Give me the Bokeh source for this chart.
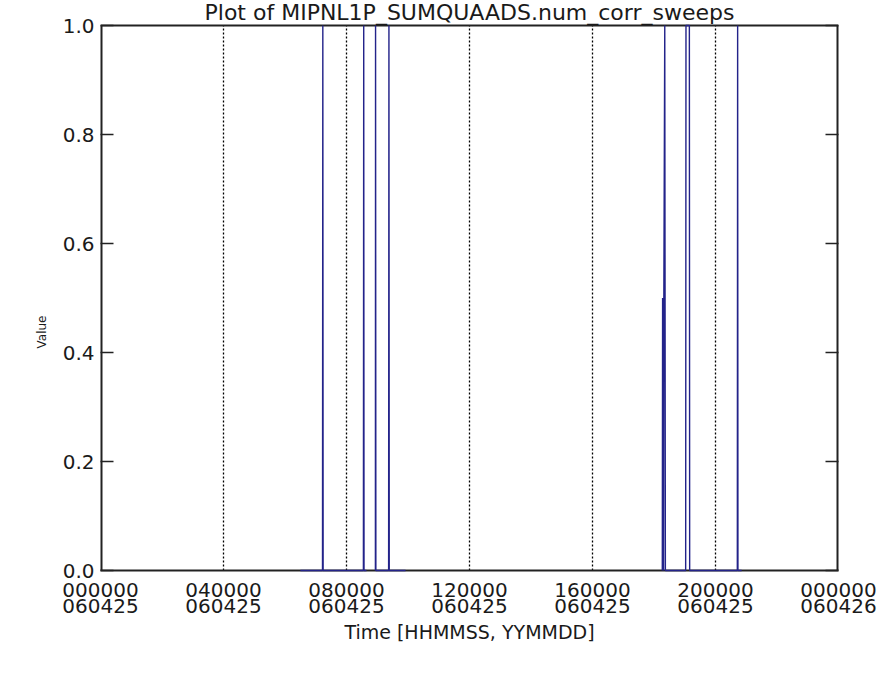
import numpy as np
from bokeh.plotting import figure
from bokeh.models import LinearAxis, FixedTicker, Range1d, Label, Title
from bokeh.embed import file_html
from bokeh.resources import INLINE

# ---------------- data ----------------
title_text = "Plot of MIPNL1P_SUMQUAADS.num_corr_sweeps"
x_label = "Time [HHMMSS, YYMMDD]"
y_label = "Value"

x_tick_hours = [0, 4, 8, 12, 16, 20, 24]
x_tick_labels = ["000000\n060425", "040000\n060425", "080000\n060425",
                 "120000\n060425", "160000\n060425", "200000\n060425",
                 "000000\n060426"]
grid_hours = [4, 8, 12, 16, 20]
y_ticks = [0.0, 0.2, 0.4, 0.6, 0.8, 1.0]

nan = float("nan")
# time of day in hours (NaN = data gap)
time_hours = [6.50, 7.22, 7.23, 7.24, 8.55, 8.56, 8.57, 8.65, nan,
              8.94, 8.945, 8.955, 9.37, 9.38, 9.39, 9.92, nan,
              18.27, 18.28, 18.29, 18.30, 18.31, 18.32, 18.35, 18.37,
              19.03, 19.04, 19.15, 19.16, 20.71, 20.72, 20.73, 20.85]
values = [0, 0, 1, 0, 0, 1, 0, 0, nan,
          0, 1, 0, 0, 1, 0, 0, nan,
          0, 0.5, 0, 0.5, 0, 0.5, 1, 0,
          0, 1, 1, 0, 0, 1, 0, 0]

# ---------------- layout ----------------
FONT = "DejaVu Sans"
TXT = "#1a1a1a"
FRAME = "#222222"

W, H = 878, 690
BORDER_L, BORDER_R, BORDER_B = 100, 40, 120
TOP_GAP = 25                      # room for the title inside the canvas frame
X0, X1 = 0, 24
Y0, Y1 = 0.0, 1.0
frame_h = H - BORDER_B
data_h = frame_h - TOP_GAP
Y_TOP = Y0 + (Y1 - Y0) * frame_h / data_h

p = figure(width=W, height=H, output_backend="svg", toolbar_location=None,
           x_range=Range1d(X0, X1), y_range=Range1d(Y0, Y_TOP),
           min_border_left=BORDER_L, min_border_right=BORDER_R,
           min_border_top=0, min_border_bottom=BORDER_B,
           background_fill_color="white", border_fill_color="white")
p.title.text = ""
p.title.visible = False
p.outline_line_color = None

# x axis
xa = p.xaxis[0]
xa.ticker = FixedTicker(ticks=x_tick_hours)
xa.major_label_overrides = {t: l for t, l in zip(x_tick_hours, x_tick_labels)}
xa.major_tick_in = 0
xa.major_tick_out = 0
xa.minor_tick_in = 0
xa.minor_tick_out = 0
xa.axis_line_color = FRAME
xa.axis_line_width = 2
xa.major_label_text_font = FONT
xa.major_label_text_font_size = "20px"
xa.major_label_text_color = TXT
xa.major_label_text_line_height = 0.7
xa.major_label_standoff = 7
xa.axis_label = x_label
xa.axis_label_text_font = FONT
xa.axis_label_text_font_size = "19px"
xa.axis_label_text_font_style = "normal"
xa.axis_label_text_color = TXT
xa.axis_label_standoff = 0

# y axis (left)
ya = p.yaxis[0]
ya.ticker = FixedTicker(ticks=y_ticks)
ya.major_label_overrides = {t: f"{t:.1f}" for t in y_ticks}
ya.major_tick_in = 13
ya.major_tick_out = 0
ya.minor_tick_in = 0
ya.minor_tick_out = 0
ya.major_tick_line_color = FRAME
ya.major_tick_line_width = 1.5
ya.axis_line_color = None
ya.major_label_text_font = FONT
ya.major_label_text_font_size = "20px"
ya.major_label_text_color = TXT
ya.major_label_standoff = 6

# y axis title: side title anchored from the bottom of the panel
p.add_layout(Title(text=y_label, align="left", offset=222, standoff=22,
                   text_font=FONT, text_font_size="12px",
                   text_font_style="normal", text_color=TXT), "left")

# right axis: ticks only
ra = LinearAxis(ticker=FixedTicker(ticks=y_ticks),
                major_label_overrides={t: "" for t in y_ticks},
                major_tick_in=13, major_tick_out=0,
                minor_tick_in=0, minor_tick_out=0,
                major_tick_line_color=FRAME, major_tick_line_width=1.5,
                axis_line_color=None,
                major_label_text_font_size="1px")
p.add_layout(ra, "right")

# grid: dotted verticals only inside the data box
p.xgrid.visible = False
p.ygrid.visible = False
p.segment(x0=grid_hours, y0=[Y0] * len(grid_hours),
          x1=grid_hours, y1=[Y1] * len(grid_hours),
          line_color="black", line_width=1.3, line_dash="2 2")

# data box (frame of the data area)
p.segment(x0=[X0, X1], y0=[Y0, Y0], x1=[X0, X1], y1=[Y1, Y1],
          line_color=FRAME, line_width=4)
p.segment(x0=[X0], y0=[Y1], x1=[X1], y1=[Y1], line_color=FRAME, line_width=2)

# data line
p.line(time_hours, values, line_color="#23238a", line_width=1.4, level="overlay")

# title
p.add_layout(Label(x=(X0 + X1) / 2, y=frame_h - 12, x_units="data", y_units="screen",
                   text=title_text, text_align="center",
                   text_baseline="alphabetic", text_font=FONT,
                   text_font_size="22px", text_color=TXT))

open("out.html", "w").write(file_html(p, INLINE))
